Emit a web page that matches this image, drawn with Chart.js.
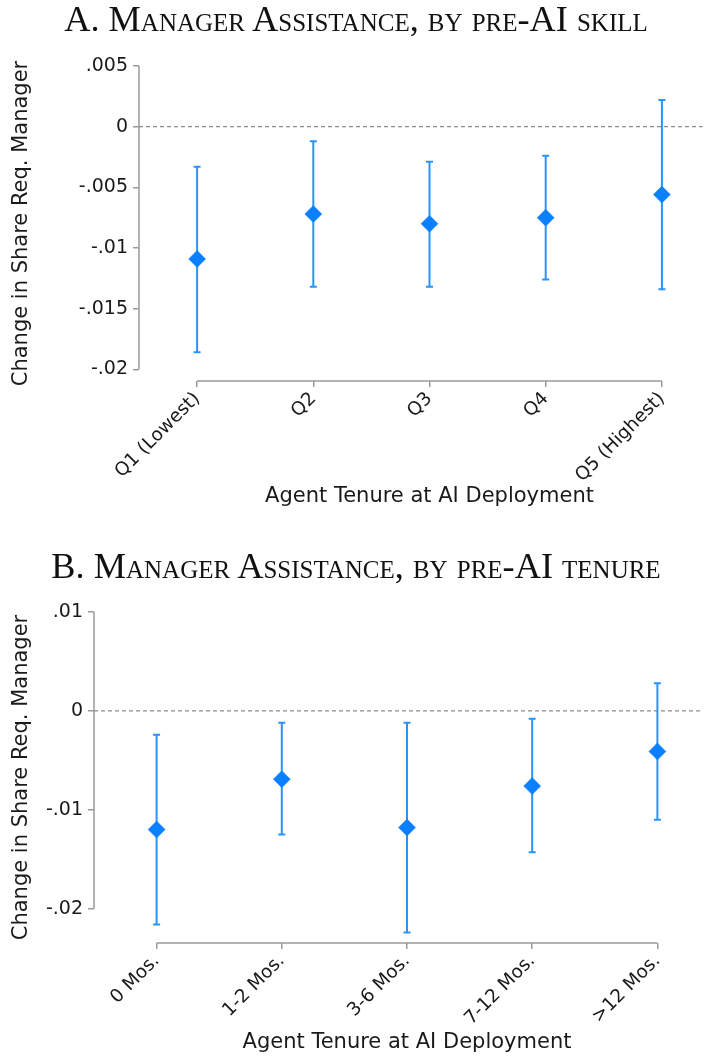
<!DOCTYPE html>
<html>
<head>
<meta charset="utf-8">
<script src="https://cdn.jsdelivr.net/npm/chart.js@4"></script>
<style>
  html, body { margin: 0; padding: 0; background: #fff; }
  #wrap { position: relative; width: 712px; height: 1059px; overflow: hidden; }
  canvas { position: absolute; left: 0; }
  .ttl {
    position: absolute; left: 0; width: 712px; text-align: center;
    font-family: "Liberation Serif", serif; font-variant: small-caps;
    font-size: 36.3px; line-height: 36px; color: #111; z-index: 2;
  }
</style>
</head>
<body>
<div id="wrap">
  <div class="ttl" style="top:1px">A. Manager Assistance, by pre-AI skill</div>
  <canvas id="chartA" width="730" height="530" style="top:0px"></canvas>
  <div class="ttl" style="top:548px">B. Manager Assistance, by pre-AI tenure</div>
  <canvas id="chartB" width="730" height="529" style="top:530px"></canvas>
</div>
<script>
// Panel A : par quintile de compétence avant l'IA
const skillCats = ['Q1 (Lowest)', 'Q2', 'Q3', 'Q4', 'Q5 (Highest)'];
const skillEst = [-0.0109, -0.0072, -0.0080, -0.0075, -0.0056];
const skillLo  = [-0.0186, -0.0132, -0.0132, -0.0126, -0.0134];
const skillHi  = [-0.0033, -0.0012, -0.0029, -0.0024, 0.0022];
const skillTicks = [0.005, 0, -0.005, -0.01, -0.015, -0.02];
const skillTickLabels = ['.005', '0', '-.005', '-.01', '-.015', '-.02'];

// Panel B : par ancienneté avant l'IA
const tenureCats = ['0 Mos.', '1-2 Mos.', '3-6 Mos.', '7-12 Mos.', '>12 Mos.'];
const tenureEst = [-0.0120, -0.0069, -0.0118, -0.0076, -0.0041];
const tenureLo  = [-0.0216, -0.0125, -0.0224, -0.0143, -0.0110];
const tenureHi  = [-0.0024, -0.0012, -0.0012, -0.0008, 0.0028];
const tenureTicks = [0.01, 0, -0.01, -0.02];
const tenureTickLabels = ['.01', '0', '-.01', '-.02'];

const xTitle = 'Agent Tenure at AI Deployment';
const yTitle = 'Change in Share Req. Manager';

Chart.defaults.font.family = '"DejaVu Sans", sans-serif';
Chart.defaults.color = '#1a1a1a';

const markerColor = '#0a80ff';
const barColor = '#2b93f7';
const axisColor = '#9a9a9a';
const zeroLineEnd = 4.35; // la ligne pointillée s'arrête avant le bord

// barres d'erreur, ligne zéro et axes façon Stata
const stataBits = {
  id: 'stataBits',
  beforeDatasetsDraw(chart, args, opts) {
    const { ctx, chartArea, scales: { x, y } } = chart;
    ctx.save();
    const y0 = y.getPixelForValue(0);
    ctx.strokeStyle = '#8c8c8c';
    ctx.lineWidth = 1.3;
    ctx.setLineDash([4, 3]);
    ctx.beginPath();
    ctx.moveTo(chartArea.left, y0);
    ctx.lineTo(x.getPixelForValue(zeroLineEnd), y0);
    ctx.stroke();
    ctx.setLineDash([]);

    ctx.strokeStyle = axisColor;
    ctx.lineWidth = 1.5;
    ctx.beginPath();
    ctx.moveTo(chartArea.left, y.getPixelForValue(opts.ticks[0]));
    ctx.lineTo(chartArea.left, y.getPixelForValue(opts.ticks[opts.ticks.length - 1]));
    ctx.moveTo(x.getPixelForValue(0), chartArea.bottom);
    ctx.lineTo(x.getPixelForValue(opts.lo.length - 1), chartArea.bottom);
    ctx.stroke();

    ctx.strokeStyle = barColor;
    ctx.lineWidth = 2;
    opts.lo.forEach((lo, i) => {
      const px = x.getPixelForValue(i);
      const pLo = y.getPixelForValue(lo);
      const pHi = y.getPixelForValue(opts.hi[i]);
      ctx.beginPath();
      ctx.moveTo(px, pLo); ctx.lineTo(px, pHi);
      ctx.moveTo(px - 3.5, pLo); ctx.lineTo(px + 3.5, pLo);
      ctx.moveTo(px - 3.5, pHi); ctx.lineTo(px + 3.5, pHi);
      ctx.stroke();
    });
    ctx.restore();
  }
};

function makeChart(id, cats, est, lo, hi, ticks, tickLabels, yMin, yMax, cfg) {
  new Chart(document.getElementById(id), {
    type: 'scatter',
    data: {
      datasets: [{
        data: est.map((v, i) => ({ x: i, y: v })),
        pointStyle: 'rectRot',
        pointRadius: 8.5,
        backgroundColor: markerColor,
        borderColor: markerColor,
        borderWidth: 0.5
      }]
    },
    options: {
      responsive: false,
      animation: false,
      devicePixelRatio: 1,
      layout: { padding: { top: cfg.padTop, right: 10, left: 0, bottom: 0 } },
      plugins: {
        legend: { display: false },
        tooltip: { enabled: false },
        stataBits: { lo: lo, hi: hi, ticks: ticks }
      },
      scales: {
        x: {
          type: 'linear',
          min: -0.5,
          max: 4.5,
          afterBuildTicks: (s) => { s.ticks = cats.map((c, i) => ({ value: i })); },
          afterFit: (s) => { s.height = cfg.xHeight; },
          ticks: {
            autoSkip: false,
            minRotation: 45,
            maxRotation: 45,
            padding: 1,
            font: { size: 18.5 },
            callback: (v) => cats[v]
          },
          grid: { display: true, drawOnChartArea: false, tickLength: 6, color: axisColor, lineWidth: 1.5 },
          border: { display: false },
          title: { display: true, text: xTitle, font: { size: 21 }, padding: { top: 0, bottom: cfg.xTitlePad } }
        },
        y: {
          min: yMin,
          max: yMax,
          afterBuildTicks: (s) => { s.ticks = ticks.map(v => ({ value: v })); },
          afterFit: (s) => { s.width = cfg.yWidth; },
          ticks: {
            padding: 5,
            font: { size: 19 },
            callback: (v) => tickLabels[ticks.indexOf(v)]
          },
          grid: { display: true, drawOnChartArea: false, tickLength: 6, color: axisColor, lineWidth: 1.5 },
          border: { display: false },
          title: { display: true, text: yTitle, font: { size: 21 }, padding: { top: 9.4, bottom: 0 } }
        }
      }
    },
    plugins: [stataBits]
  });
}

makeChart('chartA', skillCats, skillEst, skillLo, skillHi, skillTicks, skillTickLabels,
  -0.02096, 0.005, { padTop: 66, xHeight: 149, yWidth: 139, xTitlePad: 20.7 });
makeChart('chartB', tenureCats, tenureEst, tenureLo, tenureHi, tenureTicks, tenureTickLabels,
  -0.02347, 0.01, { padTop: 82, xHeight: 116, yWidth: 94, xTitlePad: 3.4 });
</script>
</body>
</html>
